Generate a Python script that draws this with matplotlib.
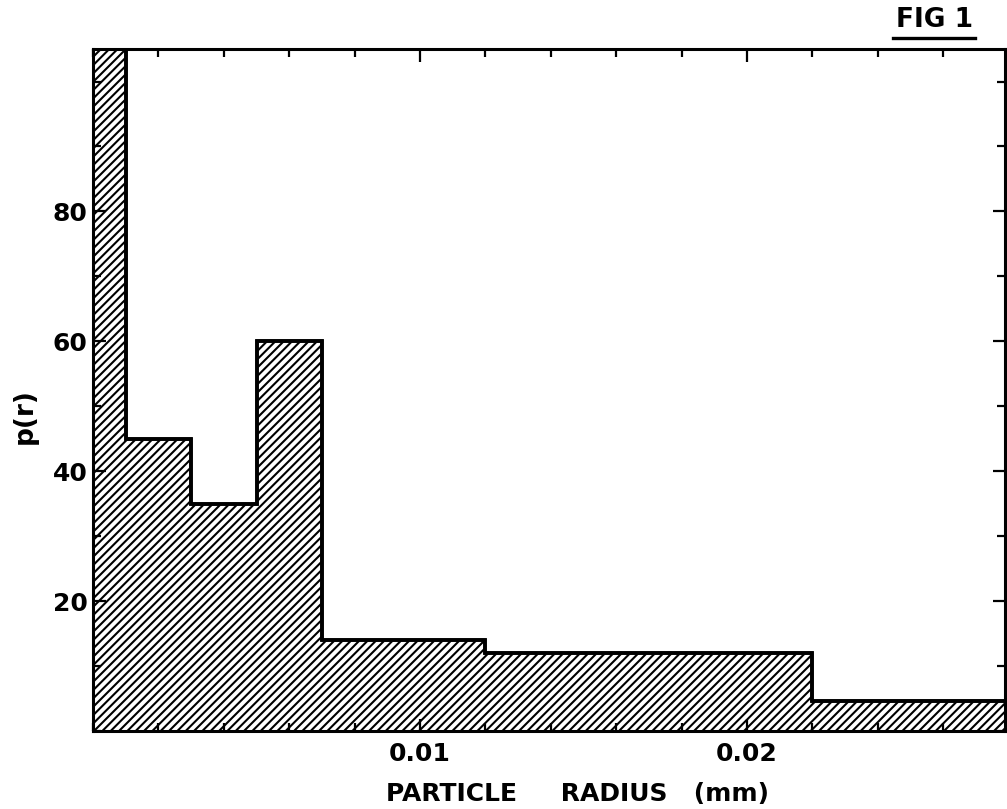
import matplotlib
matplotlib.use("Agg")
import matplotlib.pyplot as plt
from matplotlib.lines import Line2D
from matplotlib.ticker import MultipleLocator, FixedLocator
import numpy as np

# histogram of particle radius (mm) -> p(r)
bin_edges = [0.0, 0.001, 0.003, 0.005, 0.007, 0.012, 0.022, 0.030]
p_values = [120, 45, 35, 60, 14, 12, 4.6]
x_major = [0.01, 0.02]
x_major_labels = ['0.01', '0.02']
y_major = [20, 40, 60, 80]
y_major_labels = ['20', '40', '60', '80']

plt.rcParams['font.family'] = ['DejaVu Sans']
plt.rcParams['hatch.linewidth'] = 1.5

fig = plt.figure(figsize=(10.07, 8.09), dpi=100)
ax = fig.add_axes([0.0924, 0.0964, 0.906, 0.843])

ax.stairs(p_values, bin_edges, fill=True, baseline=0,
          facecolor='white', edgecolor='black', hatch='////', linewidth=2.6)
ax.stairs(p_values, bin_edges, fill=False, baseline=0,
          edgecolor='black', linewidth=2.6)

ax.set_xlim(0, 0.0279)
ax.set_ylim(0, 105)

for s in ax.spines.values():
    s.set_linewidth(2.2)

ax.xaxis.set_major_locator(FixedLocator(x_major))
ax.set_xticklabels(x_major_labels)
ax.xaxis.set_minor_locator(MultipleLocator(0.002))
ax.yaxis.set_major_locator(FixedLocator(y_major))
ax.set_yticklabels(y_major_labels)
ax.yaxis.set_minor_locator(MultipleLocator(10))

ax.tick_params(which='both', direction='in', top=True, right=True,
               width=1.6, labelsize=18)
ax.tick_params(which='major', length=9)
ax.tick_params(which='minor', length=5.5)
ax.tick_params(axis='x', pad=8)
ax.tick_params(axis='y', pad=4)
for lab in ax.get_xticklabels() + ax.get_yticklabels():
    lab.set_fontweight('bold')

ax.set_xlabel('PARTICLE     RADIUS   (mm)', fontsize=18, fontweight='bold')
ax.xaxis.set_label_coords(0.531, -0.075)
ax.set_ylabel('p(r)', fontsize=19, fontweight='bold')
ax.yaxis.set_label_coords(-0.061, 0.462)

# figure tag, underlined
fig.text(0.928, 0.975, 'FIG 1', fontsize=19, fontweight='bold',
         ha='center', va='center')
fig.add_artist(Line2D([0.887, 0.968], [0.953, 0.953], color='black',
                      linewidth=2.4, transform=fig.transFigure))

plt.savefig('out.png', dpi=100, facecolor='white')
plt.close()
